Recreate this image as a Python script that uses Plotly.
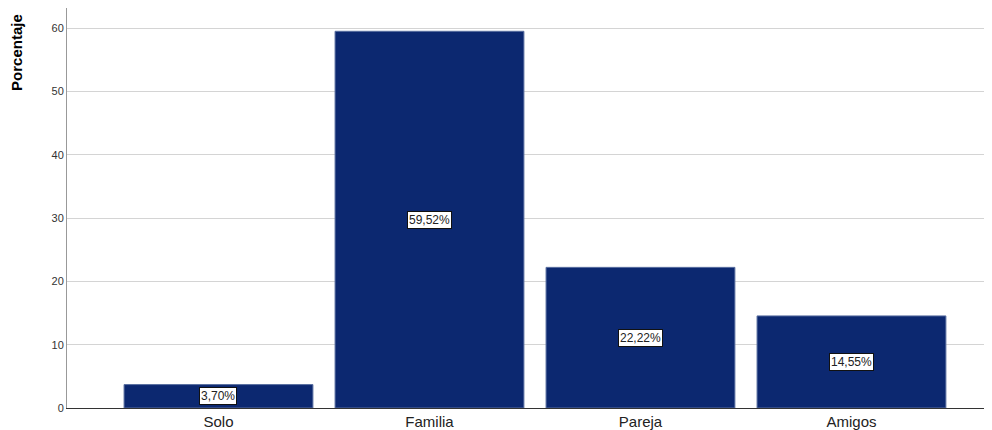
import plotly.graph_objects as go

categories = ["Solo", "Familia", "Pareja", "Amigos"]
values = [3.70, 59.52, 22.22, 14.55]
labels = ["3,70%", "59,52%", "22,22%", "14,55%"]
y_ticks = [0, 10, 20, 30, 40, 50, 60]

fig = go.Figure()
fig.add_trace(go.Bar(
    x=categories, y=values,
    marker=dict(color="#0c2870", line=dict(color="#5a6fa0", width=1)),
    width=0.895,
    hoverinfo="skip",
))

for c, v, t in zip(categories, values, labels):
    fig.add_annotation(
        x=c, y=v / 2, text=t, showarrow=False,
        font=dict(family="Liberation Sans, Arial", size=12, color="#222"),
        bgcolor="white", bordercolor="#111", borderwidth=1, borderpad=1,
    )

fig.add_annotation(
    xref="paper", yref="paper", x=-0.066, y=0.99, text="<b>Porcentaje</b>",
    textangle=-90, showarrow=False, xanchor="left", yanchor="top",
    font=dict(family="Liberation Sans, Arial", size=15, color="#000"),
)

fig.update_layout(
    width=984, height=422,
    margin=dict(l=59, r=0, t=0, b=19),
    plot_bgcolor="white", paper_bgcolor="white",
    showlegend=False,
    xaxis=dict(
        range=[-0.718, 3.666], showgrid=False,
        tickfont=dict(family="Liberation Sans, Arial", size=15, color="#222"),
        showline=True, linecolor="#333", linewidth=1, ticks="",
    ),
    yaxis=dict(
        range=[0, 63.2], tickvals=y_ticks,
        tickfont=dict(family="Liberation Sans, Arial", size=11, color="#333"),
        showgrid=True, gridcolor="#d4d4d4", gridwidth=1,
        showline=True, linecolor="#999", linewidth=1,
        ticks="", zeroline=False,
    ),
)

fig.write_html("out.html")
